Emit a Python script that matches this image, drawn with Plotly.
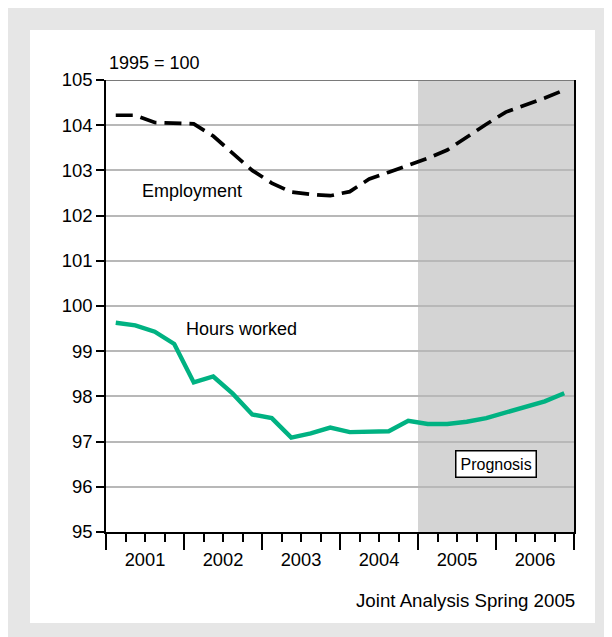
import plotly.graph_objects as go

# ---- data ----
years = ["2001", "2002", "2003", "2004", "2005", "2006"]
quarters = [f"{y}Q{q}" for y in years for q in range(1, 5)]
employment = [104.22, 104.22, 104.06, 104.05, 104.03, 103.76, 103.39, 103.00,
              102.72, 102.52, 102.47, 102.44, 102.53, 102.81, 102.96, 103.11,
              103.27, 103.45, 103.74, 104.02, 104.29, 104.44, 104.60, 104.78]
hours = [99.63, 99.57, 99.43, 99.16, 98.31, 98.44, 98.06, 97.60,
         97.52, 97.09, 97.18, 97.31, 97.21, 97.21, 97.23, 97.46,
         97.39, 97.39, 97.44, 97.52, 97.64, 97.76, 97.89, 98.07]
prognosis_start = 16   # first forecast quarter index (2005Q1)

xq = [i + 0.5 for i in range(len(quarters))]       # quarter centres
year_centres = [4 * i + 2 for i in range(len(years))]
year_bounds = [4 * i for i in range(len(years) + 1)]

FONT = "Liberation Sans, Arial, Helvetica, sans-serif"
GREEN = "#00b282"

# figure geometry in pixels (page adds an 8px body margin)
W, H = 612, 637
OFF = 8
L, R, T, B = 106 - OFF, 574 - OFF, 80 - OFF, 532 - OFF


def px(xp):
    """page pixel x -> paper coordinate"""
    return (xp - OFF - L) / (R - L)


def py(yp):
    """page pixel y -> paper coordinate"""
    return (B - (yp - OFF)) / (B - T)


fig = go.Figure()
fig.add_trace(go.Scatter(x=xq, y=employment, mode="lines", name="Employment",
                         line=dict(color="black", width=3.7, dash="17px,8px"),
                         hoverinfo="skip"))
fig.add_trace(go.Scatter(x=xq, y=hours, mode="lines", name="Hours worked",
                         line=dict(color=GREEN, width=4.4),
                         hoverinfo="skip"))
# carrier for the year-label axis
fig.add_trace(go.Scatter(x=year_centres, y=[95] * len(years), xaxis="x2",
                         mode="markers", marker=dict(opacity=0),
                         hoverinfo="skip", showlegend=False))

shapes = [
    # outer grey frame and inner white panel
    dict(type="rect", xref="paper", yref="paper", x0=px(OFF), x1=px(W + 20),
         y0=py(H + 20), y1=py(OFF), fillcolor="#e6e6e6", line_width=0, layer="below"),
    dict(type="rect", xref="paper", yref="paper", x0=px(30), x1=px(595),
         y0=py(623), y1=py(30), fillcolor="white", line_width=0, layer="below"),
    # prognosis shading
    dict(type="rect", xref="x", yref="y", x0=prognosis_start, x1=len(quarters),
         y0=95, y1=105, fillcolor="#d4d4d4", line_width=0, layer="below"),
    # top border line
    dict(type="line", xref="paper", yref="y", x0=0, x1=1, y0=105, y1=105,
         line=dict(color="#7a7a7a", width=2)),
]

annotations = [
    dict(text="1995 = 100", xref="paper", yref="paper", x=px(107), y=py(63),
         xanchor="left", yanchor="middle", showarrow=False,
         font=dict(family=FONT, size=18, color="black")),
    dict(text="Employment", xref="x", yref="y", x=4.41, y=102.54,
         showarrow=False, font=dict(family=FONT, size=18, color="black")),
    dict(text="Hours worked", xref="x", yref="y", x=6.95, y=99.49,
         showarrow=False, font=dict(family=FONT, size=18, color="black")),
    dict(text="Prognosis", xref="x", yref="y", x=20, y=96.5,
         showarrow=False, bgcolor="white", bordercolor="black",
         borderwidth=1.5, borderpad=4,
         font=dict(family=FONT, size=16, color="black")),
    dict(text="Joint Analysis Spring 2005", xref="paper", yref="paper",
         x=px(577), y=py(600), xanchor="right", yanchor="middle",
         showarrow=False, font=dict(family=FONT, size=18.7, color="black")),
]

fig.update_layout(
    width=W, height=H,
    margin=dict(l=L, r=W - R, t=T, b=H - B, pad=0),
    paper_bgcolor="white", plot_bgcolor="rgba(0,0,0,0)",
    showlegend=False,
    shapes=shapes, annotations=annotations,
    font=dict(family=FONT, size=18, color="black"),
    xaxis=dict(range=[0, len(quarters)], tickmode="array", tickvals=year_bounds,
               ticks="outside", ticklen=16, tickwidth=1.5, tickcolor="black",
               showticklabels=False, showgrid=False, zeroline=False,
               showline=True, linecolor="black", linewidth=2,
               minor=dict(tickmode="linear", tick0=0, dtick=1, ticks="outside",
                          ticklen=8, tickwidth=1.5, tickcolor="black",
                          showgrid=False)),
    xaxis2=dict(range=[0, len(quarters)], overlaying="x", anchor="y", side="bottom",
                tickmode="array", tickvals=year_centres, ticktext=years,
                ticks="", showgrid=False, zeroline=False, showline=False,
                ticklabelstandoff=15,
                tickfont=dict(family=FONT, size=18.3, color="black")),
    yaxis=dict(range=[95, 105], tickmode="linear", tick0=95, dtick=1,
               ticks="outside", ticklen=8, tickwidth=1.5, tickcolor="black",
               ticklabelstandoff=0,
               showgrid=True, gridcolor="#b8b8b8", gridwidth=1.5,
               zeroline=False, showline=True, linecolor="black", linewidth=1.5,
               mirror=True,
               tickfont=dict(family=FONT, size=18.5, color="black")),
)

fig.write_html("out.html")
